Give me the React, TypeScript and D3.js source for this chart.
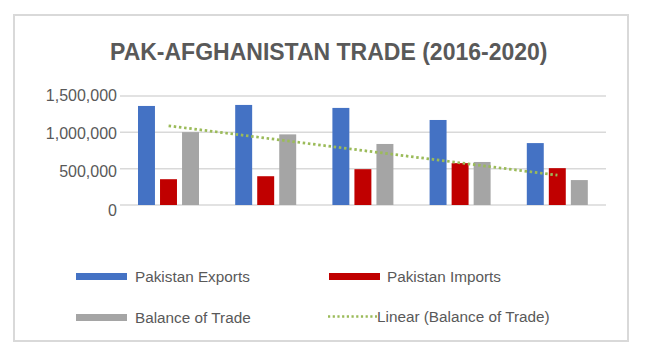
import * as React from 'react';
import * as d3 from 'd3';

// Chart data
const years = ['2016', '2017', '2018', '2019', '2020'];
const exportsValues = [1363000, 1377000, 1336000, 1170000, 852000];
const importsValues = [355000, 396000, 493000, 576000, 507000];
const balanceValues = [1003000, 972000, 840000, 592000, 343000];
const yTicks = [0, 500000, 1000000, 1500000];

const seriesNames = ['Pakistan Exports', 'Pakistan Imports', 'Balance of Trade'];
const seriesColors = ['#4472c4', '#c00000', '#a5a5a5'];
const trendColor = '#9bbb59';
const textColor = '#595959';
const font = '"Liberation Sans", Arial, sans-serif';

const width = 652;
const height = 364;

const App: React.FC = () => {
  const plot = { left: 120, right: 606, top: 96, bottom: 205 };

  const x0 = d3.scaleBand<string>().domain(years).range([plot.left, plot.right]).padding(0);
  const x1 = d3.scaleBand<string>().domain(seriesNames).range([18, 79]).paddingInner(0.23);
  const y = d3.scaleLinear().domain([0, 1500000]).range([plot.bottom, plot.top]);

  const values = [exportsValues, importsValues, balanceValues];

  // linear trend of the balance series (least squares over category index)
  const idx = balanceValues.map((_, i) => i + 1);
  const mx = d3.mean(idx) ?? 0;
  const my = d3.mean(balanceValues) ?? 0;
  const slope =
    d3.sum(idx.map((xi, i) => (xi - mx) * (balanceValues[i] - my))) /
    d3.sum(idx.map(xi => (xi - mx) * (xi - mx)));
  const trend = idx.map(xi => my + slope * (xi - mx));
  const trendLine = d3
    .line<number>()
    .x((_, i) => (x0(years[i]) ?? 0) + x0.bandwidth() / 2)
    .y(d => y(d));

  const fmt = d3.format(',');

  const legend = [
    { x: 76, y: 276.5, type: 'rect', color: seriesColors[0], text: seriesNames[0], tx: 135 },
    { x: 329, y: 276.5, type: 'rect', color: seriesColors[1], text: seriesNames[1], tx: 387 },
    { x: 76, y: 317.5, type: 'rect', color: seriesColors[2], text: seriesNames[2], tx: 135 },
    { x: 328, y: 316.5, type: 'line', color: trendColor, text: 'Linear (Balance of Trade)', tx: 377 },
  ];

  return (
    <svg
      width={width}
      height={height}
      style={{ position: 'absolute', left: 0, top: 0, background: '#fff' }}
      fontFamily={font}
    >
      <rect x={0} y={0} width={width} height={height} fill="#fff" />
      {/* chart frame */}
      <rect x={14} y={15} width={614} height={326} fill="#fff" stroke="#d9d9d9" strokeWidth={2} />

      <text x={110} y={60} fontSize={23} fontWeight="bold" fill={textColor}>
        PAK-AFGHANISTAN TRADE (2016-2020)
      </text>

      {/* gridlines + y labels */}
      {yTicks.map(t => (
        <g key={t}>
          <line x1={plot.left} x2={plot.right} y1={y(t)} y2={y(t)} stroke="#d9d9d9" strokeWidth={1.5} />
          <text
            x={117}
            y={y(t) + (1500000 - t) / 250000 - 1}
            dy="0.35em"
            textAnchor="end"
            fontSize={16}
            fill={textColor}
          >
            {fmt(t)}
          </text>
        </g>
      ))}

      {/* bars */}
      {years.map((yr, i) => (
        <g key={yr} transform={`translate(${x0(yr)},0)`}>
          {seriesNames.map((s, j) => (
            <rect
              key={s}
              x={x1(s)}
              y={y(values[j][i])}
              width={x1.bandwidth()}
              height={y(0) - y(values[j][i])}
              fill={seriesColors[j]}
            />
          ))}
        </g>
      ))}

      {/* trendline */}
      <path
        d={trendLine(trend) ?? ''}
        fill="none"
        stroke={trendColor}
        strokeWidth={2.75}
        strokeDasharray="2.5 2.7"
      />

      {/* legend */}
      {legend.map(l => (
        <g key={l.text}>
          {l.type === 'rect' ? (
            <rect x={l.x} y={l.y - 3.5} width={51} height={7} fill={l.color} />
          ) : (
            <line
              x1={l.x}
              x2={l.x + 49}
              y1={l.y}
              y2={l.y}
              stroke={l.color}
              strokeWidth={2.5}
              strokeDasharray="2.2 2.5"
            />
          )}
          <text x={l.tx} y={l.y} dy="0.35em" fontSize={15.3} fill={textColor}>
            {l.text}
          </text>
        </g>
      ))}
    </svg>
  );
};

export default App;
